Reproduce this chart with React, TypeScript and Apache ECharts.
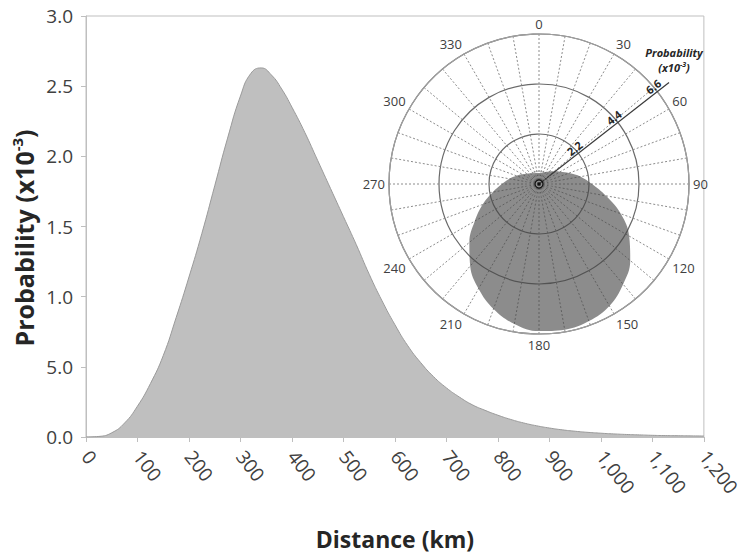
import React, { useEffect, useRef } from 'react';
import * as echarts from 'echarts';

// ---- Main chart data (distance distribution) ----
const distanceKm = [
  0, 25, 50, 75, 100, 125, 150, 175, 200, 225, 250, 275, 300, 320, 340, 360, 380, 400,
  425, 450, 475, 500, 525, 550, 575, 600, 625, 650, 675, 700, 725, 750, 775, 800,
  825, 850, 875, 900, 925, 950, 975, 1000, 1025, 1050, 1075, 1100, 1125, 1150, 1175, 1200,
];
const probability = [
  0, 0.004, 0.03, 0.1, 0.22, 0.38, 0.58, 0.85, 1.14, 1.45, 1.79, 2.13, 2.43, 2.59, 2.63, 2.58, 2.48, 2.35,
  2.17, 1.97, 1.77, 1.57, 1.37, 1.16, 0.97, 0.8, 0.65, 0.53, 0.43, 0.35, 0.285, 0.23, 0.19, 0.155,
  0.125, 0.1, 0.08, 0.064, 0.051, 0.041, 0.033, 0.027, 0.022, 0.018, 0.015, 0.012, 0.01, 0.009, 0.008, 0.007,
];
const yTickLabels = ['0.0', '5.0', '1.0', '1.5', '2.0', '2.5', '3.0'];

// ---- Inset polar data (direction distribution) ----
const bearingDeg = [
  0, 10, 20, 30, 40, 50, 60, 70, 80, 90, 100, 110, 120, 130, 140, 150, 160, 170, 180,
  190, 200, 210, 220, 230, 240, 250, 260, 270, 280, 290, 300, 310, 320, 330, 340, 350, 360,
];
const bearingProbability = [
  0.48, 0.5, 0.54, 0.61, 0.72, 0.87, 1.08, 1.41, 1.86, 2.33, 2.99, 3.83, 4.58, 5.24, 5.76, 6.2, 6.42, 6.51, 6.47,
  6.25, 5.85, 5.32, 4.71, 4.0, 3.26, 2.64, 2.07, 1.63, 1.32, 1.06, 0.85, 0.71, 0.6, 0.54, 0.51, 0.49, 0.48,
];
const radiusTicks = [2.2, 4.4, 6.6];
const radiusMax = 6.6;
const radiusAxisBearing = 52;

const FONT = 'Open Sans';

export default function App() {
  const ref = useRef<HTMLDivElement>(null);

  useEffect(() => {
    document.body.style.margin = '0';
    const chart = echarts.init(ref.current!, null, { renderer: 'svg' });

    const CX = 539;
    const CY = 184;
    const R = 150;

    const option: any = {
      animation: false,
      backgroundColor: '#ffffff',
      textStyle: { fontFamily: FONT },
      grid: {
        left: 86,
        right: 31,
        top: 16,
        bottom: 120,
        show: true,
        borderColor: '#bfbfbf',
        borderWidth: 1,
      },
      xAxis: {
        type: 'value',
        min: 0,
        max: 1200,
        interval: 100,
        name: 'Distance (km)',
        nameLocation: 'middle',
        nameGap: 90,
        nameTextStyle: { fontFamily: FONT, fontSize: 23, fontWeight: 'bold', color: '#262626' },
        axisLine: { lineStyle: { color: '#bfbfbf', width: 1 } },
        axisTick: { show: true, length: 5, lineStyle: { color: '#bfbfbf' } },
        splitLine: { show: false },
        axisLabel: {
          rotate: -52,
          margin: 16,
          fontFamily: FONT,
          fontSize: 19,
          color: '#404040',
          formatter: (v: number) => v.toLocaleString('en-US'),
        },
      },
      yAxis: {
        type: 'value',
        min: 0,
        max: 3,
        interval: 0.5,
        axisLine: { show: true, lineStyle: { color: '#bfbfbf', width: 1 } },
        axisTick: { show: true, length: 5, lineStyle: { color: '#bfbfbf' } },
        splitLine: { show: false },
        axisLabel: {
          margin: 13,
          fontFamily: FONT,
          fontSize: 19,
          color: '#404040',
          formatter: (v: number) => yTickLabels[Math.round(v / 0.5)] ?? '',
        },
      },
      polar: { center: [CX, CY], radius: R },
      angleAxis: {
        type: 'value',
        min: 0,
        max: 360,
        interval: 10,
        startAngle: 90,
        clockwise: true,
        axisLine: { show: true, lineStyle: { color: '#a0a0a0', width: 1.2 } },
        axisTick: { show: false },
        axisLabel: {
          margin: 4,
          fontFamily: FONT,
          fontSize: 13,
          color: '#404040',
          formatter: (v: number) => (v % 30 === 0 && v < 360 ? String(v) : ''),
        },
        splitLine: { show: true, lineStyle: { color: '#8c8c8c', width: 1, type: [2, 2] } },
      },
      radiusAxis: {
        type: 'value',
        min: 0,
        max: radiusMax,
        interval: 2.2,
        axisLine: { show: false },
        axisTick: { show: false },
        axisLabel: { show: false },
        splitLine: { show: true, lineStyle: { color: '#6a6a6a', width: 1.2 } },
      },
      series: [
        {
          type: 'line',
          name: 'distance',
          data: distanceKm.map((d, i) => [d, probability[i]]),
          smooth: 0.5,
          symbol: 'none',
          lineStyle: { color: '#9a9a9a', width: 1 },
          areaStyle: { color: '#bfbfbf', opacity: 1 },
          z: 2,
        },
        {
          type: 'line',
          name: 'direction',
          coordinateSystem: 'polar',
          polarIndex: 0,
          data: bearingDeg.map((a, i) => [bearingProbability[i], a]),
          smooth: 0.4,
          symbol: 'none',
          lineStyle: { width: 0, color: 'rgba(0,0,0,0)' },
          areaStyle: { color: 'rgba(70,70,70,0.62)', opacity: 1 },
          z: 3,
        },
      ],
    };
    chart.setOption(option);

    // Decorations for the inset: radial axis along a bearing, its labels, centre marker
    const rad = (radiusAxisBearing * Math.PI) / 180;
    const ux = Math.sin(rad);
    const uy = -Math.cos(rad);
    const px = -Math.cos(rad);
    const py = -Math.sin(rad);
    const endR = R * 1.1;
    const ex = CX + ux * endR;
    const ey = CY + uy * endR;
    const textRot = ((90 - radiusAxisBearing) * Math.PI) / 180;

    const graphic: any[] = [
      // y-axis title (with superscript)
      {
        type: 'text',
        x: 24,
        y: 238,
        rotation: Math.PI / 2,
        z: 10,
        style: {
          text: '{t|Probability (x10}{s|-3}{t|)}',
          align: 'center',
          verticalAlign: 'middle',
          rich: {
            t: { fontFamily: FONT, fontSize: 25, fontWeight: 'bold', fill: '#262626', color: '#262626', lineHeight: 30 },
            s: { fontFamily: FONT, fontSize: 15, fontWeight: 'bold', fill: '#262626', color: '#262626', verticalAlign: 'top', lineHeight: 18 },
          },
        },
      },
      {
        type: 'line',
        shape: { x1: CX, y1: CY, x2: ex, y2: ey },
        style: { stroke: '#3a3a3a', lineWidth: 1.2 },
        z: 10,
      },
      ...radiusTicks.map((t) => {
        const r = (t / radiusMax) * R;
        return {
          type: 'text',
          x: CX + ux * r + px * 1,
          y: CY + uy * r + py * 1,
          rotation: textRot,
          z: 10,
          style: {
            text: t.toFixed(1),
            fontFamily: FONT,
            fontSize: 11,
            fontWeight: 'bold',
            fill: '#262626',
            align: 'center',
            verticalAlign: 'bottom',
          },
        };
      }),
      // radial axis title, two lines
      {
        type: 'text',
        x: ex + 5,
        y: ey - 24,
        z: 10,
        style: {
          text: 'Probability',
          fontFamily: FONT,
          fontSize: 11,
          fontStyle: 'italic',
          fontWeight: 'bold',
          fill: '#262626',
          align: 'center',
          verticalAlign: 'bottom',
        },
      },
      {
        type: 'text',
        x: ex + 5,
        y: ey - 21,
        z: 10,
        style: {
          text: '{t|(x10}{s|-3}{t|)}',
          align: 'center',
          verticalAlign: 'top',
          rich: {
            t: { fontFamily: FONT, fontSize: 11, fontStyle: 'italic', fontWeight: 'bold', fill: '#262626', color: '#262626', lineHeight: 13 },
            s: { fontFamily: FONT, fontSize: 7, fontStyle: 'italic', fontWeight: 'bold', fill: '#262626', color: '#262626', verticalAlign: 'top', lineHeight: 8 },
          },
        },
      },
      ...[13, 10, 7].map((r) => ({
        type: 'circle',
        shape: { cx: CX, cy: CY, r },
        style: { fill: 'none', stroke: '#8a8a8a', lineWidth: 0.6 },
        z: 10,
      })),
      {
        type: 'circle',
        shape: { cx: CX, cy: CY, r: 4 },
        style: { fill: 'none', stroke: '#111111', lineWidth: 1.2 },
        z: 11,
      },
      {
        type: 'circle',
        shape: { cx: CX, cy: CY, r: 1.6 },
        style: { fill: '#111111' },
        z: 11,
      },
    ];
    chart.setOption({ graphic });

    return () => chart.dispose();
  }, []);

  return <div ref={ref} style={{ width: 743, height: 557 }} />;
}
